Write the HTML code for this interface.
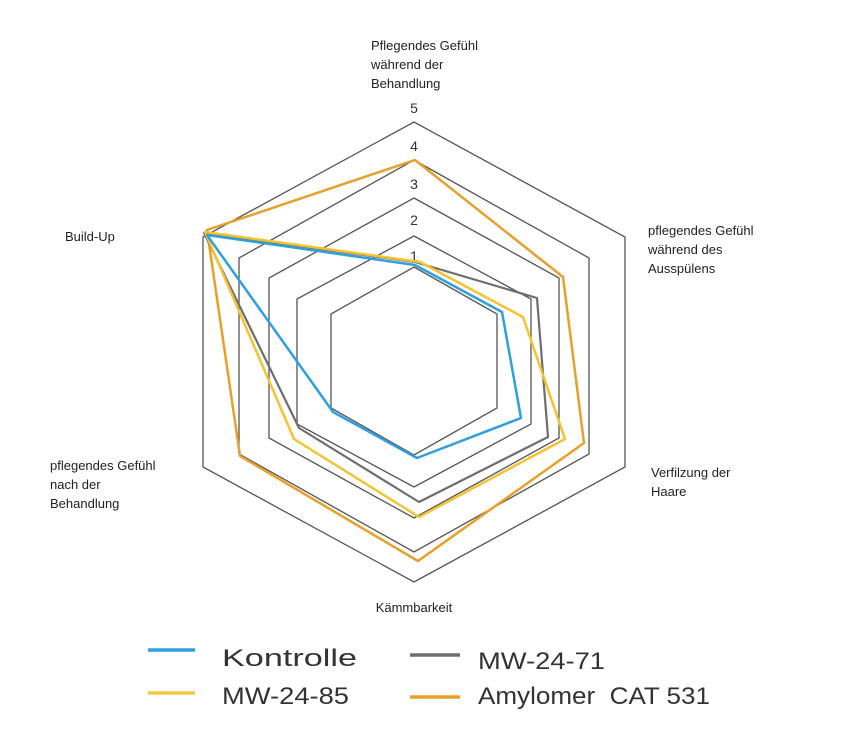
<!DOCTYPE html>
<html><head><meta charset="utf-8"><style>
body{margin:0;background:#fff;}
svg{display:block;}
text{font-family:"Liberation Sans",sans-serif;}
</style></head><body>
<svg width="844" height="729" viewBox="0 0 844 729" xmlns="http://www.w3.org/2000/svg">
<g fill="none" stroke="#555" stroke-width="1.3">
<polygon points="414,122 625,237 625,467 414,582 203,467 203,237"/>
<polygon points="414,160 589,258 589,454 414,552 239,454 239,258"/>
<polygon points="414,198 559,278 559,438 414,518 269,438 269,278"/>
<polygon points="414,236 531,299 531,424 414,487 297,424 297,299"/>
<polygon points="414,267 497,314 497,408 414,455 331,408 331,314"/>
</g>
<g fill="#333" font-size="14" text-anchor="middle">
<text x="414" y="113">5</text><text x="414" y="151">4</text><text x="414" y="189">3</text><text x="414" y="225">2</text><text x="414" y="261">1</text>
</g>
<g fill="none" stroke-width="2.5" stroke-linejoin="round">
<polygon stroke="#e8a02a" points="415,160 563,277 584,443 418,561 240,456 207,230"/>
<polygon stroke="#6e6e6e" stroke-width="2.2" points="415,262 537,298 548,437 419,502 299,428 204,233"/>
<polygon stroke="#f5c331" points="420,262 523,317 565,439 419,517 294,439 205,232"/>
<polygon stroke="#2e9fe0" points="415,265 502,312 521,418 417,458 333,412 207,235"/>
</g>
<g fill="#222" font-size="13">
<text x="371" y="50">Pflegendes Gefühl</text>
<text x="371" y="69">während der</text>
<text x="371" y="88">Behandlung</text>
<text x="65" y="241">Build-Up</text>
<text x="648" y="235">pflegendes Gefühl</text>
<text x="648" y="254">während des</text>
<text x="648" y="273">Ausspülens</text>
<text x="651" y="477">Verfilzung der</text>
<text x="651" y="496">Haare</text>
<text x="50" y="470">pflegendes Gefühl</text>
<text x="50" y="489">nach der</text>
<text x="50" y="508">Behandlung</text>
<text x="414" y="612" text-anchor="middle">Kämmbarkeit</text>
</g>
<g stroke-width="3.5">
<line x1="148" y1="650" x2="195" y2="650" stroke="#2e9fe0"/>
<line x1="410" y1="655" x2="460" y2="655" stroke="#6e6e6e"/>
<line x1="148" y1="693" x2="195" y2="693" stroke="#f5c842"/>
<line x1="410" y1="697" x2="460" y2="697" stroke="#e8a02a"/>
</g>
<g fill="#333" font-size="24">
<text x="222" y="666" textLength="135" lengthAdjust="spacingAndGlyphs">Kontrolle</text>
<text x="478" y="669" textLength="127" lengthAdjust="spacingAndGlyphs">MW-24-71</text>
<text x="222" y="704" textLength="127" lengthAdjust="spacingAndGlyphs">MW-24-85</text>
<text x="478" y="704" xml:space="preserve" textLength="232" lengthAdjust="spacingAndGlyphs">Amylomer  CAT 531</text>
</g>
</svg>
</body></html>
